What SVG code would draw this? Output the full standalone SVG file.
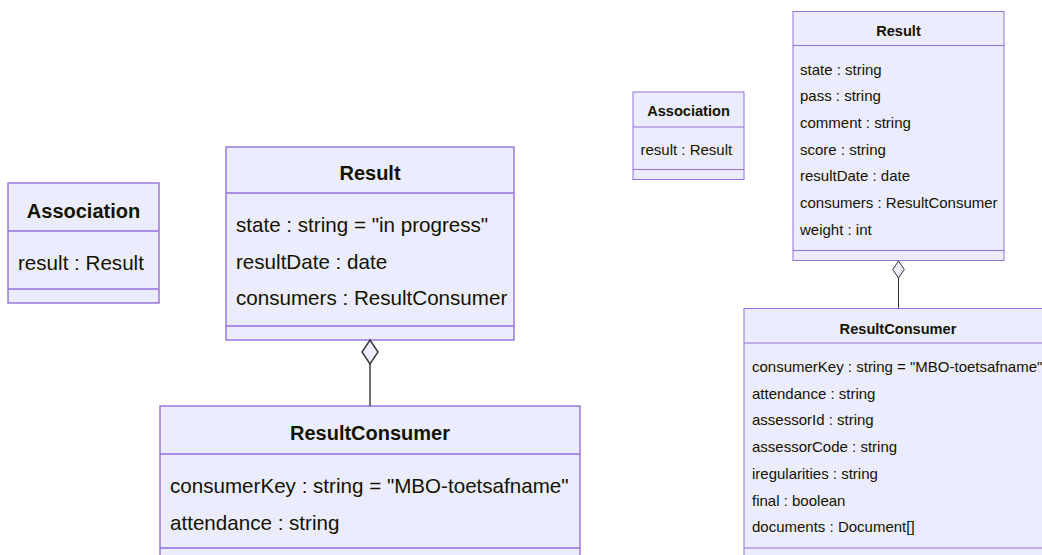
<svg xmlns="http://www.w3.org/2000/svg" width="1042" height="555" viewBox="0 0 1042 555">
<style>
.box{fill:#ECECFF;stroke:#9370DB;}
.big .box,.big .div{stroke-width:1.4;}
.small .box,.small .div{stroke-width:1;}
.div{stroke:#9370DB;fill:none;}
text{font-family:"Liberation Sans",Arial,sans-serif;fill:#131300;}
.big text{font-size:20.6px;}
.small text{font-size:15px;}
.big .t{font-size:20px;}
.small .t{font-size:14.6px;}
.t{font-weight:bold;text-anchor:middle;}
.edge{stroke:#333333;fill:none;}
.dia{fill:#ECECFF;stroke:#333333;}
</style>
<rect width="1042" height="555" fill="#ffffff"/>
<g class="big">
  <g id="L-Association">
    <rect class="box" x="8" y="183" width="151" height="120"/>
    <line class="div" x1="8" y1="231" x2="159" y2="231"/>
    <line class="div" x1="8" y1="289" x2="159" y2="289"/>
    <text class="t" x="83.5" y="218">Association</text>
    <text x="18" y="270">result : Result</text>
  </g>
  <g id="L-Result">
    <rect class="box" x="226" y="147" width="288" height="193"/>
    <line class="div" x1="226" y1="193" x2="514" y2="193"/>
    <line class="div" x1="226" y1="326" x2="514" y2="326"/>
    <text class="t" x="370" y="180">Result</text>
    <text x="236" y="232">state : string = "in progress"</text>
    <text x="236" y="268.5">resultDate : date</text>
    <text x="236" y="305">consumers : ResultConsumer</text>
  </g>
  <g id="L-ResultConsumer">
    <rect class="box" x="160" y="406" width="420" height="160"/>
    <line class="div" x1="160" y1="454" x2="580" y2="454"/>
    <line class="div" x1="160" y1="548" x2="580" y2="548"/>
    <text class="t" x="370" y="440">ResultConsumer</text>
    <text x="170" y="493">consumerKey : string = "MBO-toetsafname"</text>
    <text x="170" y="529.5">attendance : string</text>
  </g>
  <g id="L-edges">
    <line class="edge" stroke-width="1.4" x1="370" y1="364" x2="370" y2="406"/>
    <path class="dia" stroke-width="1.4" d="M370,340 L378,352 L370,364 L362,352 Z"/>
  </g>
</g>
<g class="small">
  <g id="R-Association">
    <rect class="box" x="633" y="92" width="111" height="87.5"/>
    <line class="div" x1="633" y1="127" x2="744" y2="127"/>
    <line class="div" x1="633" y1="169.5" x2="744" y2="169.5"/>
    <text class="t" x="688.5" y="116">Association</text>
    <text x="640.5" y="155">result : Result</text>
  </g>
  <g id="R-Result">
    <rect class="box" x="793" y="11.5" width="211" height="249"/>
    <line class="div" x1="793" y1="45.5" x2="1004" y2="45.5"/>
    <line class="div" x1="793" y1="250.5" x2="1004" y2="250.5"/>
    <text class="t" x="898.5" y="35.5">Result</text>
    <text x="800" y="74.5">state : string</text>
    <text x="800" y="101.2">pass : string</text>
    <text x="800" y="127.9">comment : string</text>
    <text x="800" y="154.6">score : string</text>
    <text x="800" y="181.3">resultDate : date</text>
    <text x="800" y="208">consumers : ResultConsumer</text>
    <text x="800" y="234.7">weight : int</text>
  </g>
  <g id="R-ResultConsumer">
    <rect class="box" x="744" y="308.5" width="308" height="252"/>
    <line class="div" x1="744" y1="343" x2="1052" y2="343"/>
    <line class="div" x1="744" y1="548" x2="1052" y2="548"/>
    <text class="t" x="898" y="333.5">ResultConsumer</text>
    <text x="752" y="372">consumerKey : string = "MBO-toetsafname"</text>
    <text x="752" y="398.7">attendance : string</text>
    <text x="752" y="425.4">assessorId : string</text>
    <text x="752" y="452.1">assessorCode : string</text>
    <text x="752" y="478.8">iregularities : string</text>
    <text x="752" y="505.5">final : boolean</text>
    <text x="752" y="532.2">documents : Document[]</text>
  </g>
  <g id="R-edges">
    <line class="edge" stroke-width="1" x1="898.5" y1="278" x2="898.5" y2="308.5"/>
    <path class="dia" stroke-width="1" d="M898.5,261 L904.3,269.5 L898.5,278 L892.7,269.5 Z"/>
  </g>
</g>
</svg>
